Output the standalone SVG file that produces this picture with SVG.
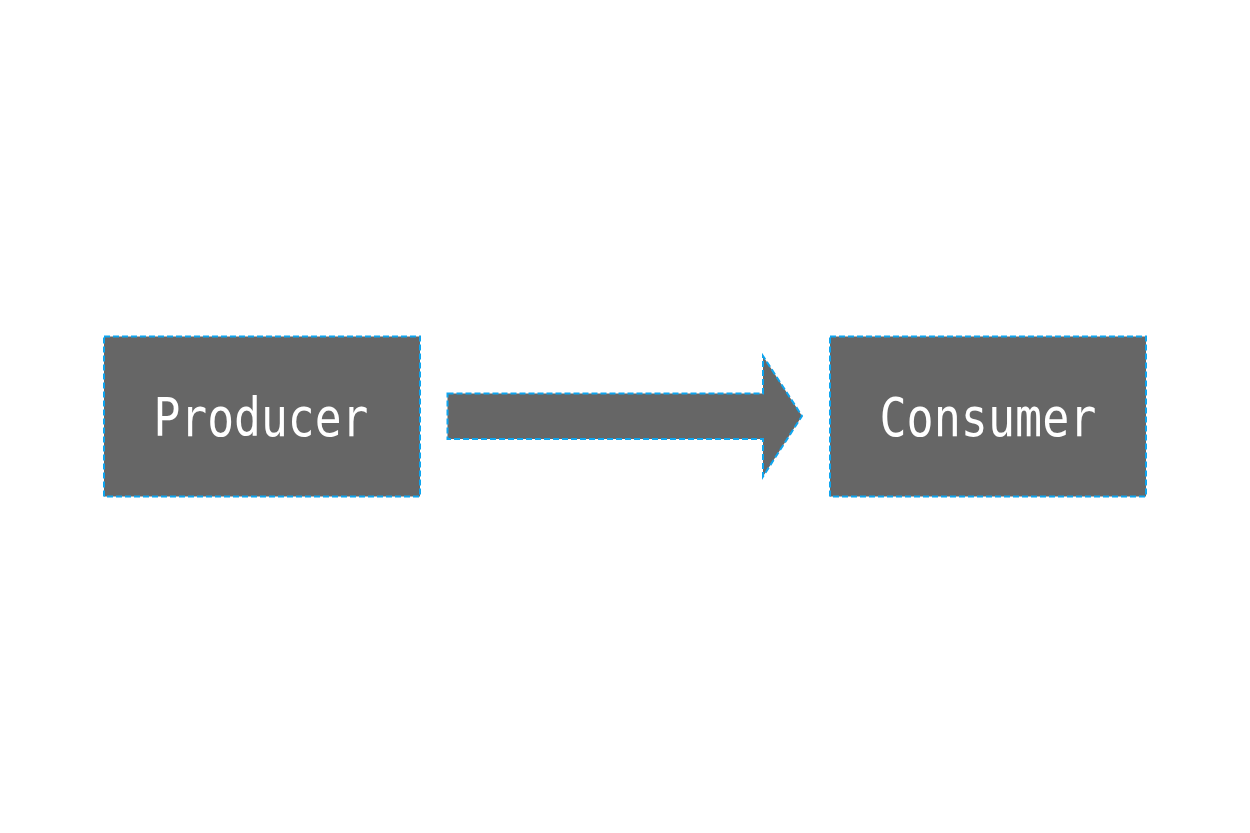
<svg xmlns="http://www.w3.org/2000/svg" width="1250" height="833" viewBox="0 0 1250 833">
<style>
.box{fill:#666666;stroke:#0ea5ef;stroke-width:2;stroke-dasharray:6 3}
.lbl{fill:#ffffff;font-family:"DejaVu Sans Mono","Liberation Mono",monospace;font-size:54px;text-anchor:middle}
</style>
<rect width="1250" height="833" fill="#ffffff"/>
<g id="producer">
<rect class="box" x="104" y="336.5" width="316" height="160"/>
<text class="lbl" x="261" y="436" textLength="215" lengthAdjust="spacingAndGlyphs">Producer</text>
</g>
<g id="connectors">
<path class="box" d="M447.5 393.5 L763 393.5 L763 356 L802 416 L763 476.5 L763 439 L447.5 439 Z"/>
</g>
<g id="consumer">
<rect class="box" x="830" y="336.5" width="316" height="160"/>
<text class="lbl" x="988" y="436" textLength="217" lengthAdjust="spacingAndGlyphs">Consumer</text>
</g>
</svg>
